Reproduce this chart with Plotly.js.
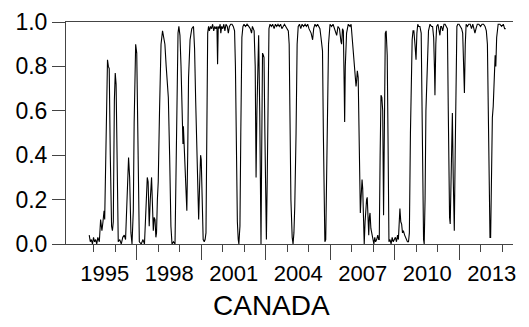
<!DOCTYPE html>
<html><head><meta charset="utf-8">
<script src="https://cdn.plot.ly/plotly-3.0.1.min.js"></script>
<style>html,body{margin:0;padding:0;background:#fff;}#chart{width:529px;height:327px;}</style>
</head><body><div id="chart"></div>
<script>
const years = [
1994.78,1994.83,1994.88,1994.93,1994.98,1995.03,1995.08,1995.13,1995.18,1995.25,
1995.31,1995.37,1995.42,1995.47,1995.50,1995.55,1995.60,1995.63,1995.67,1995.71,
1995.76,1995.82,1995.86,1995.90,1995.95,1995.99,1996.03,1996.08,1996.13,1996.20,
1996.27,1996.34,1996.41,1996.47,1996.53,1996.57,1996.61,1996.66,1996.72,1996.77,
1996.83,1996.87,1996.91,1996.94,1996.99,1997.04,1997.08,1997.11,1997.20,1997.28,
1997.35,1997.43,1997.48,1997.52,1997.57,1997.62,1997.68,1997.72,1997.76,1997.80,
1997.84,1997.88,1997.91,1997.95,1997.99,1998.05,1998.12,1998.19,1998.25,1998.30,
1998.36,1998.41,1998.46,1998.52,1998.58,1998.63,1998.70,1998.77,1998.82,1998.87,
1998.91,1998.95,1999.00,1999.05,1999.10,1999.14,1999.16,1999.22,1999.28,1999.32,
1999.36,1999.40,1999.47,1999.55,1999.63,1999.68,1999.73,1999.78,1999.83,1999.87,
1999.91,1999.96,1999.99,2000.03,2000.08,2000.13,2000.17,2000.21,2000.25,2000.29,
2000.33,2000.37,2000.42,2000.47,2000.52,2000.57,2000.62,2000.67,2000.72,2000.75,
2000.78,2000.82,2000.87,2000.90,2000.94,2000.99,2001.04,2001.09,2001.14,2001.20,
2001.25,2001.30,2001.36,2001.42,2001.48,2001.54,2001.58,2001.62,2001.67,2001.71,
2001.74,2001.77,2001.79,2001.83,2001.88,2001.93,2001.98,2002.05,2002.12,2002.20,
2002.27,2002.33,2002.37,2002.41,2002.45,2002.50,2002.54,2002.58,2002.63,2002.66,
2002.71,2002.75,2002.77,2002.80,2002.84,2002.88,2002.91,2002.95,2002.99,2003.02,
2003.06,2003.10,2003.14,2003.19,2003.25,2003.31,2003.38,2003.44,2003.50,2003.56,
2003.62,2003.68,2003.74,2003.80,2003.86,2003.92,2003.98,2004.04,2004.08,2004.12,
2004.16,2004.22,2004.26,2004.30,2004.34,2004.40,2004.45,2004.50,2004.56,2004.62,
2004.68,2004.75,2004.82,2004.88,2004.94,2005.00,2005.05,2005.10,2005.17,2005.22,
2005.28,2005.34,2005.40,2005.46,2005.51,2005.56,2005.59,2005.63,2005.67,2005.71,
2005.74,2005.78,2005.82,2005.86,2005.91,2005.98,2006.05,2006.12,2006.20,2006.29,
2006.35,2006.42,2006.49,2006.52,2006.56,2006.60,2006.64,2006.66,2006.69,2006.75,
2006.83,2006.91,2006.96,2007.00,2007.06,2007.10,2007.14,2007.19,2007.22,2007.25,
2007.29,2007.33,2007.36,2007.39,2007.43,2007.47,2007.50,2007.53,2007.57,2007.61,
2007.65,2007.68,2007.71,2007.75,2007.78,2007.81,2007.84,2007.88,2007.92,2007.96,
2008.02,2008.06,2008.10,2008.15,2008.20,2008.24,2008.27,2008.31,2008.35,2008.39,
2008.43,2008.47,2008.51,2008.55,2008.59,2008.64,2008.68,2008.72,2008.77,2008.82,
2008.87,2008.92,2008.97,2009.02,2009.07,2009.12,2009.16,2009.20,2009.23,2009.27,
2009.31,2009.35,2009.39,2009.45,2009.50,2009.54,2009.58,2009.63,2009.67,2009.72,
2009.76,2009.80,2009.84,2009.88,2009.93,2009.98,2010.02,2010.06,2010.10,2010.16,
2010.22,2010.26,2010.29,2010.33,2010.36,2010.40,2010.44,2010.50,2010.56,2010.63,
2010.70,2010.75,2010.80,2010.84,2010.86,2010.90,2010.94,2011.00,2011.05,2011.09,
2011.13,2011.17,2011.22,2011.28,2011.33,2011.40,2011.44,2011.48,2011.51,2011.54,
2011.57,2011.61,2011.64,2011.67,2011.71,2011.74,2011.76,2011.80,2011.84,2011.88,
2011.92,2011.98,2012.04,2012.10,2012.15,2012.19,2012.23,2012.27,2012.31,2012.37,
2012.43,2012.50,2012.56,2012.62,2012.68,2012.72,2012.77,2012.83,2012.90,2012.98,
2013.05,2013.12,2013.19,2013.25,2013.30,2013.34,2013.38,2013.42,2013.45,2013.49,
2013.53,2013.57,2013.62,2013.66,2013.69,2013.73,2013.80,2013.88,2013.96,2014.04,
2014.10,2014.15
];
const prob = [
0.04,0.01,0.02,0.00,0.03,0.01,0.02,0.00,0.03,0.01,
0.11,0.06,0.10,0.15,0.11,0.45,0.78,0.83,0.80,0.79,
0.40,0.08,0.06,0.10,0.65,0.77,0.72,0.20,0.01,0.02,
0.00,0.03,0.04,0.02,0.22,0.35,0.39,0.30,0.05,0.00,
0.15,0.55,0.85,0.90,0.86,0.40,0.05,0.01,0.00,0.02,
0.00,0.15,0.30,0.28,0.08,0.20,0.30,0.18,0.06,0.12,
0.11,0.03,0.05,0.20,0.28,0.60,0.90,0.96,0.93,0.90,
0.80,0.72,0.66,0.40,0.08,0.00,0.01,0.00,0.35,0.80,
0.95,0.98,0.94,0.80,0.55,0.45,0.53,0.35,0.18,0.15,
0.40,0.75,0.92,0.97,0.98,0.88,0.65,0.40,0.20,0.11,
0.25,0.40,0.38,0.15,0.02,0.01,0.02,0.05,0.80,0.95,
0.98,0.96,0.98,0.97,0.99,0.96,0.98,0.97,0.98,0.81,
0.98,0.97,0.99,0.95,0.98,0.97,0.99,0.96,0.99,0.98,
0.95,0.98,0.99,0.99,0.98,0.96,0.80,0.40,0.10,0.02,
0.00,0.05,0.08,0.50,0.93,0.98,0.99,0.98,0.99,0.98,
0.97,0.95,0.98,0.97,0.96,0.80,0.30,0.60,0.93,0.94,
0.60,0.02,0.00,0.40,0.86,0.85,0.84,0.50,0.05,0.02,
0.30,0.85,0.97,0.99,0.98,0.99,0.97,0.99,0.98,0.99,
0.98,0.99,0.97,0.98,0.99,0.98,0.97,0.96,0.90,0.60,
0.20,0.03,0.00,0.05,0.17,0.50,0.90,0.98,0.99,0.97,
0.99,0.98,0.99,0.98,0.99,0.97,0.96,0.95,0.92,0.97,
0.99,0.98,0.99,0.98,0.97,0.93,0.90,0.87,0.50,0.10,
0.01,0.02,0.30,0.67,0.90,0.99,0.98,0.99,0.97,0.94,
0.98,0.97,0.91,0.90,0.97,0.96,0.70,0.55,0.80,0.95,
0.99,0.98,0.99,0.94,0.88,0.85,0.78,0.71,0.74,0.78,
0.75,0.55,0.35,0.14,0.22,0.29,0.25,0.15,0.00,0.10,
0.18,0.20,0.21,0.05,0.04,0.12,0.14,0.07,0.05,0.02,
0.00,0.03,0.01,0.02,0.04,0.02,0.02,0.40,0.67,0.66,
0.60,0.13,0.55,0.95,0.96,0.85,0.45,0.01,0.02,0.00,
0.03,0.01,0.02,0.03,0.01,0.04,0.02,0.10,0.16,0.10,
0.09,0.05,0.06,0.04,0.03,0.02,0.01,0.01,0.05,0.50,
0.80,0.92,0.96,0.96,0.90,0.83,0.95,0.99,0.98,0.98,
0.95,0.60,0.20,0.02,0.00,0.20,0.60,0.80,0.96,0.99,
0.98,0.98,0.93,0.78,0.67,0.90,0.98,0.99,0.96,0.94,
0.98,0.98,0.96,0.99,0.99,0.98,0.97,0.60,0.30,0.12,
0.09,0.30,0.59,0.59,0.30,0.08,0.06,0.40,0.90,0.98,
0.99,0.99,0.98,0.97,0.95,0.82,0.68,0.90,0.99,0.98,
0.99,0.99,0.97,0.99,0.97,0.95,0.97,0.99,0.99,0.98,
0.99,0.99,0.98,0.96,0.90,0.60,0.20,0.03,0.03,0.35,
0.57,0.62,0.80,0.85,0.80,0.93,0.99,0.99,0.98,0.99,
0.97,0.97
];
const tickLabels = ['1995','1998','2001','2004','2007','2010','2013'];
const chartTitle = 'CANADA';

const firstYear = Number(tickLabels[0]);
const lastYear = Number(tickLabels[tickLabels.length - 1]) + 1;
const labelPos = tickLabels.map(t => Number(t) + 0.5);
const minorTicks = [];
const majorTicks = [];
for (let y = firstYear; y <= lastYear; y++) {
  if ((y - firstYear) % 3 === 2) majorTicks.push(y); else minorTicks.push(y);
}
const xRange = [1993.70, 2014.49];
const axisCol = '#444';

const data = [
  {x: years, y: prob, type: 'scatter', mode: 'lines', line: {color: '#000', width: 1.1}, hoverinfo: 'skip', xaxis: 'x', yaxis: 'y'},
  {x: [years[0]], y: [0], type: 'scatter', mode: 'markers', marker: {opacity: 0}, hoverinfo: 'skip', xaxis: 'x2', yaxis: 'y'}
];

const layout = {
  width: 529, height: 327,
  margin: {l: 66, r: 16, t: 22, b: 83, pad: 0},
  paper_bgcolor: '#fff', plot_bgcolor: '#fff',
  showlegend: false,
  font: {family: '"Liberation Sans", Arial, sans-serif', color: '#000', size: 22},
  xaxis: {
    range: xRange, showgrid: false, zeroline: false, showline: true, linecolor: axisCol, linewidth: 1, mirror: true,
    tickmode: 'array', tickvals: majorTicks, ticks: 'outside', ticklen: 15, tickcolor: axisCol, tickwidth: 1,
    showticklabels: false,
    minor: {tickmode: 'array', tickvals: minorTicks, ticks: 'outside', ticklen: 7, tickcolor: axisCol, tickwidth: 1, showgrid: false}
  },
  xaxis2: {
    range: xRange, overlaying: 'x', anchor: 'y', side: 'bottom', showgrid: false, zeroline: false, showline: false,
    tickmode: 'array', tickvals: labelPos, ticktext: tickLabels,
    ticks: 'outside', ticklen: 10, tickcolor: 'rgba(0,0,0,0)', tickfont: {size: 22, color: '#000'}
  },
  yaxis: {
    range: [0, 1], tickmode: 'linear', tick0: 0, dtick: 0.2, tickformat: '.1f',
    ticks: 'outside', ticklen: 13, tickcolor: axisCol, tickwidth: 1,
    showline: true, linecolor: axisCol, linewidth: 1, showgrid: false, zeroline: false,
    tickfont: {size: 23, color: '#000'}
  },
  annotations: [{
    text: chartTitle, xref: 'paper', yref: 'paper', x: 0.4597, y: -0.279,
    xanchor: 'center', yanchor: 'middle', showarrow: false, font: {size: 28, color: '#000'}
  }]
};

Plotly.newPlot('chart', data, layout, {displayModeBar: false, staticPlot: true});
</script>
</body></html>
